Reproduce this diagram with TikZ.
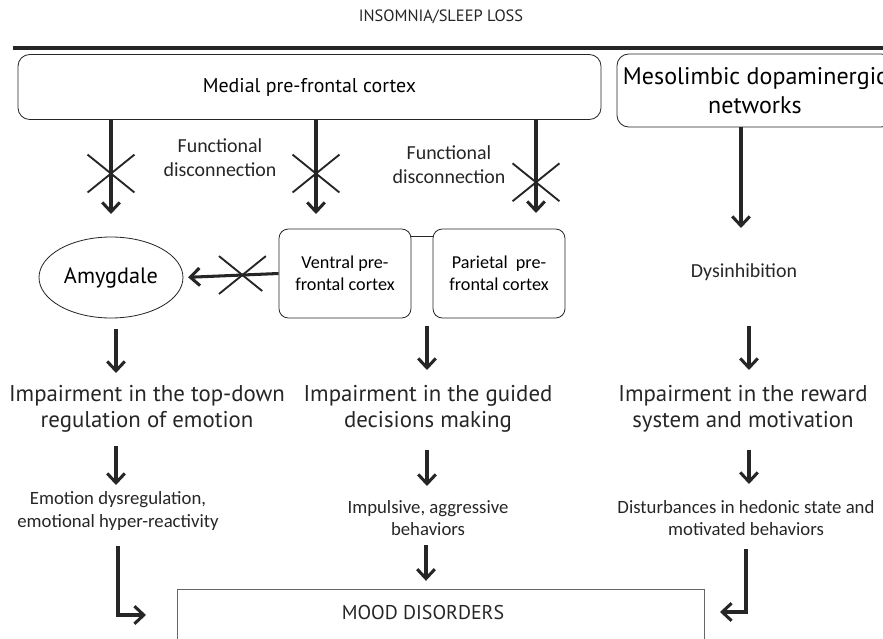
\documentclass[tikz,border=0pt]{standalone}
\usepackage{fontspec}
\setmainfont{Carlito}
\newfontfamily\headfont{PT Sans}
\usepackage{tikz}
\usetikzlibrary{arrows.meta,positioning,shapes.geometric,shapes.misc}

\begin{document}
\begin{tikzpicture}[
  x=0.03cm, y=-0.03cm,
  arr/.style={draw=black!85, line width=2.6pt, -{Straight Barb[length=8pt, width=15pt, line width=2.6pt]}},
  cut/.style={cross out, draw=black!85, line width=1.6pt, minimum width=1.35cm, minimum height=1.08cm, inner sep=0pt},
  region/.style={draw=black!85, rounded corners=10pt, line width=0.7pt, align=center, font=\headfont\fontsize{17}{21}\selectfont},
  subregion/.style={draw=black!85, rounded corners=8pt, line width=0.7pt, align=center, minimum width=3.96cm, minimum height=2.67cm, font=\fontsize{15.5}{19}\selectfont},
  effect/.style={align=center, text=black!85, font=\headfont\fontsize{19.5}{22.5}\selectfont},
  outcome/.style={align=center, text=black!85, font=\fontsize{16}{19}\selectfont},
  note/.style={align=center, text=black!85, font=\fontsize{17}{20.5}\selectfont}
]
\useasboundingbox (0,0) rectangle (883,639);
\clip (0,0) rectangle (883,639);

% header
\node[font=\headfont\fontsize{14}{16}\selectfont, text=black!85] (insomnia) at (441,17) {INSOMNIA/SLEEP LOSS};
\coordinate (ruleL) at (13,48);
\coordinate (ruleR) at (883,48);
\draw[black!85, line width=2.8pt] (ruleL) -- (ruleR);

% top boxes
\node[region, minimum width=17.49cm, minimum height=1.95cm] (medial) at (309.5,87) {Medial pre-frontal cortex};
\node[region, minimum width=8.28cm, minimum height=2.19cm, font=\headfont\fontsize{20.5}{25}\selectfont] (meso) at (755,90.5) {Mesolimbic dopaminergic\\networks};

% second level
\node[ellipse, draw=black!85, line width=0.7pt, minimum width=3.54cm, minimum height=2.43cm, font=\headfont\fontsize{19}{22}\selectfont] (amyg) at (111,277.5) {Amygdale};
\node[subregion] (ventral) at (345,273.5) {Ventral pre-\\frontal cortex};
\node[subregion] (parietal) at (499,273.5) {Parietal\ \ pre-\\frontal cortex};
\node[note] (dysinh) at (744,272) {Dysinhibition};
\draw[black!85, line width=0.7pt] ([yshift=-0.24cm]ventral.north east) -- ([yshift=-0.24cm]parietal.north west);

% disconnections
\coordinate (tipA) at (111,214);
\coordinate (tipV) at (316,214);
\coordinate (tipP) at (536,213);
\coordinate (tipM) at (741,228);
\draw[arr] (medial.south -| tipA) -- node[cut, pos=0.57] (cutA) {} (tipA);
\draw[arr] (medial.south -| tipV) -- node[cut, pos=0.57] (cutV) {} (tipV);
\draw[arr] (medial.south -| tipP) -- node[cut, pos=0.67] (cutP) {} (tipP);
\draw[arr] (meso.south -| tipM) -- (tipM);
\node[note] (discA) at (220,158) {Functional\\disconnection};
\node[note] (discP) at (449,165) {Functional\\disconnection};
\draw[arr, shorten >=4pt] (ventral.west) -- node[cut, pos=0.38] (cutVA) {} (amyg.east);

% impairments
\node[effect] (emotion) at (147,409) {Impairment in the top-down\\regulation of emotion};
\node[effect] (decision) at (428,409) {Impairment in the guided\\decisions making};
\node[effect] (reward) at (743,409) {Impairment in the reward\\system and motivation};

\coordinate (a1s) at (116,329); \coordinate (a1e) at (116,373);
\coordinate (a2s) at (427,326); \coordinate (a2e) at (427,370);
\coordinate (a3s) at (749,326); \coordinate (a3e) at (749,370);
\draw[arr] (a1s) -- (a1e);
\draw[arr] (a2s) -- (a2e);
\draw[arr] (a3s) -- (a3e);

% behaviours
\node[outcome] (dysreg) at (118,511) {Emotion dysregulation,\\emotional hyper-reactivity};
\node[outcome] (impulse) at (428,518) {Impulsive, aggressive\\behaviors};
\node[outcome] (hedonic) at (746,518) {Disturbances in hedonic state and\\motivated behaviors};

\coordinate (b1s) at (116,446); \coordinate (b1e) at (116,485);
\coordinate (b2s) at (427,450); \coordinate (b2e) at (427,486);
\coordinate (b3s) at (749,450); \coordinate (b3e) at (749,484);
\draw[arr] (b1s) -- (b1e);
\draw[arr] (b2s) -- (b2e);
\draw[arr] (b3s) -- (b3e);

% outcome
\node[draw=black!60, line width=0.8pt, minimum width=15.81cm, minimum height=3cm, anchor=north] (mood) at (440.5,589) {};
\node[font=\headfont\fontsize{17}{20}\selectfont, text=black!85] (moodtxt) at (423,613) {MOOD DISORDERS};
\coordinate (c2s) at (426,545);
\coordinate (leftin) at (146,615);
\coordinate (rightin) at (720,612);
\draw[arr] (c2s) -- ([yshift=7pt]mood.north -| c2s);
\draw[arr] ([yshift=-10pt]dysreg.south) |- (leftin);
\draw[arr] ([yshift=-8pt]hedonic.south) |- (rightin);
\end{tikzpicture}
\end{document}
